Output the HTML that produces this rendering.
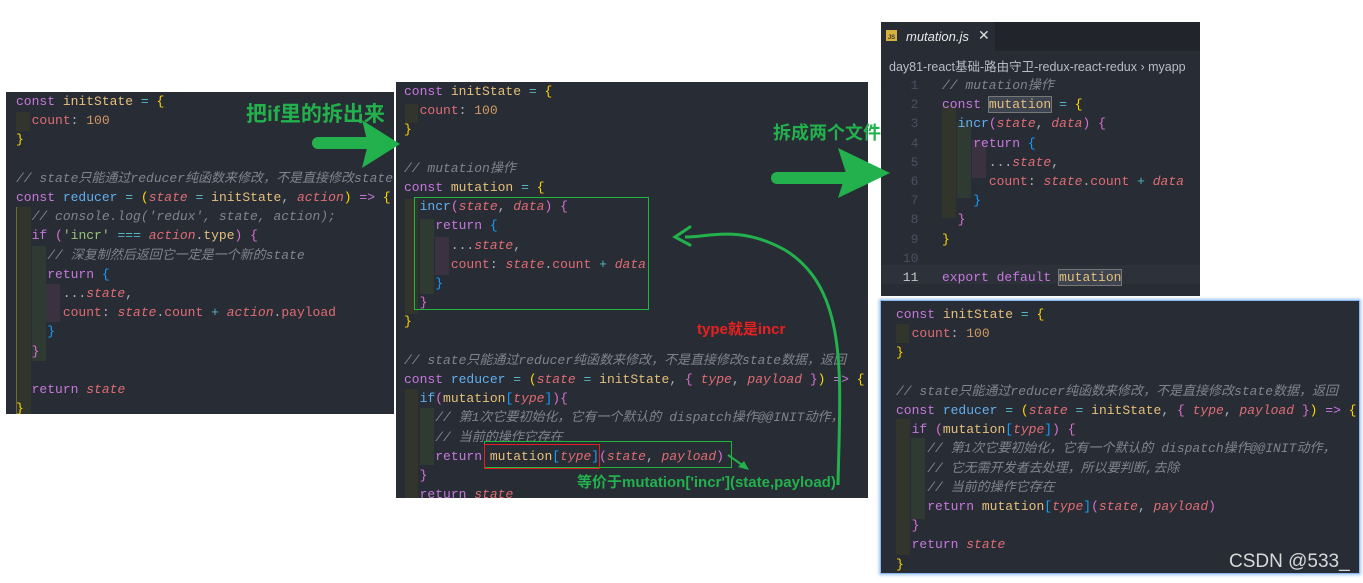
<!DOCTYPE html>
<html><head><meta charset="utf-8"><style>
body{margin:0;width:1363px;height:583px;background:#fff;position:relative;overflow:hidden;font-family:"Liberation Mono","Noto Sans CJK SC",monospace}
.p{position:absolute;background:#282c34;overflow:hidden}
pre{margin:0;position:absolute;font-family:"Liberation Mono","Noto Sans CJK SC",monospace;font-size:13px;line-height:19.2px;color:#abb2bf;white-space:pre}
.k{color:#c678dd}.y{color:#e5c07b}.r{color:#e06c75}.n{color:#d19a66}.c{color:#7f848e;font-style:italic}.b{color:#61afef}.i{color:#e06c75;font-style:italic}.g{color:#98c379}.cy{color:#56b6c2}.yb{color:#ffd700}.pb{color:#da70d6}.bb{color:#179fff}.w{color:#dcdcdc}
.lab{position:absolute;font-family:"Liberation Sans","Noto Sans CJK SC",sans-serif;font-weight:bold;white-space:nowrap}
.gd{position:absolute;background:#32352c}
</style></head><body>

<!-- Panel A -->
<div class="p" style="left:6px;top:92px;width:388px;height:322px">
<div class="gd" style="left:10px;top:20px;width:14px;height:19px"></div>
<div class="gd" style="left:10px;top:115px;width:14px;height:210px;border-left:1px solid #6e6a3a"></div>
<div class="gd" style="left:26px;top:154px;width:14px;height:115px;background:#2f3a33"></div>
<div class="gd" style="left:40px;top:192px;width:14px;height:38px;background:#3a3240"></div>
<pre style="left:10px;top:0px"><span class="k">const</span> <span class="y">initState</span> <span class="cy">=</span> <span class="yb">{</span>
  <span class="r">count</span>: <span class="n">100</span>
<span class="yb">}</span>

<span class="c">// state只能通过reducer纯函数来修改，不是直接修改state</span>
<span class="k">const</span> <span class="b">reducer</span> <span class="cy">=</span> <span class="yb">(</span><span class="i">state</span> <span class="cy">=</span> <span class="y">initState</span>, <span class="i">action</span><span class="yb">)</span> <span class="k">=&gt;</span> <span class="yb">{</span>
  <span class="c">// console.log('redux', state, action);</span>
  <span class="k">if</span> <span class="pb">(</span><span class="g">'incr'</span> <span class="cy">===</span> <span class="i">action</span>.<span class="y">type</span><span class="pb">)</span> <span class="pb">{</span>
    <span class="c">// 深复制然后返回它一定是一个新的state</span>
    <span class="k">return</span> <span class="bb">{</span>
      ...<span class="i">state</span>,
      <span class="r">count</span>: <span class="i">state</span>.<span class="r">count</span> <span class="cy">+</span> <span class="i">action</span>.<span class="r">payload</span>
    <span class="bb">}</span>
  <span class="pb">}</span>

  <span class="k">return</span> <span class="i">state</span>
<span class="yb">}</span></pre>
</div>

<!-- Panel B -->
<div class="p" style="left:396px;top:82px;width:472px;height:416px">
<div class="gd" style="left:9px;top:22px;width:13px;height:19px"></div>
<div class="gd" style="left:9px;top:117px;width:13px;height:115px"></div>
<div class="gd" style="left:24px;top:137px;width:14px;height:75px;background:#2f3a33"></div>
<div class="gd" style="left:39px;top:155px;width:14px;height:38px;background:#3a3240"></div>
<div class="gd" style="left:9px;top:307px;width:13px;height:109px"></div>
<div class="gd" style="left:24px;top:326px;width:14px;height:57px;background:#2f3a33"></div>
<pre style="left:8px;top:0px"><span class="k">const</span> <span class="y">initState</span> <span class="cy">=</span> <span class="yb">{</span>
  <span class="r">count</span>: <span class="n">100</span>
<span class="yb">}</span>

<span class="c">// mutation操作</span>
<span class="k">const</span> <span class="y">mutation</span> <span class="cy">=</span> <span class="yb">{</span>
  <span class="b">incr</span><span class="pb">(</span><span class="i">state</span>, <span class="i">data</span><span class="pb">)</span> <span class="pb">{</span>
    <span class="k">return</span> <span class="bb">{</span>
      ...<span class="i">state</span>,
      <span class="r">count</span>: <span class="i">state</span>.<span class="r">count</span> <span class="cy">+</span> <span class="i">data</span>
    <span class="bb">}</span>
  <span class="pb">}</span>
<span class="yb">}</span>

<span class="c">// state只能通过reducer纯函数来修改，不是直接修改state数据，返回</span>
<span class="k">const</span> <span class="b">reducer</span> <span class="cy">=</span> <span class="yb">(</span><span class="i">state</span> <span class="cy">=</span> <span class="y">initState</span>, <span class="pb">{</span> <span class="i">type</span>, <span class="i">payload</span> <span class="pb">}</span><span class="yb">)</span> <span class="k">=&gt;</span> <span class="yb">{</span>
  <span class="b">if</span><span class="pb">(</span><span class="y">mutation</span><span class="bb">[</span><span class="i">type</span><span class="bb">]</span><span class="pb">){</span>
    <span class="c">// 第1次它要初始化，它有一个默认的 dispatch操作@@INIT动作，</span>
    <span class="c">// 当前的操作它存在</span>
    <span class="k">return</span> <span class="y">mutation</span><span class="bb">[</span><span class="i">type</span><span class="bb">]</span><span class="pb">(</span><span class="i">state</span>, <span class="i">payload</span><span class="pb">)</span>
  <span class="pb">}</span>
  <span class="k">return</span> <span class="i">state</span></pre>
<div style="position:absolute;left:18px;top:115px;width:233px;height:111px;border:1px solid #1fb83d"></div>
<div style="position:absolute;left:88px;top:359px;width:246px;height:25px;border:1px solid #1fb83d"></div>
<div style="position:absolute;left:88px;top:362px;width:114px;height:23px;border:1px solid #e02020"></div>
</div>

<!-- Panel C -->
<div class="p" style="left:881px;top:22px;width:319px;height:274px;background:#282c34">
<div style="position:absolute;left:0;top:0;width:319px;height:29px;background:#21252b"></div>
<div style="position:absolute;left:0;top:0;width:114px;height:29px;background:#282c34"></div>
<div style="position:absolute;left:5px;top:8px;width:11px;height:11px;background:#d7b13c;font:bold 6px 'Liberation Sans';color:#333;text-align:center;line-height:16px">JS</div>
<div class="lab" style="left:25px;top:7px;font-weight:normal;font-style:italic;font-size:13px;color:#e8e8e8">mutation.js</div>
<div class="lab" style="left:97px;top:5px;font-weight:normal;font-size:14px;color:#ddd">✕</div>
<div class="lab" style="left:8px;top:34px;font-weight:normal;font-size:12.5px;color:#b8bcc4">day81-react基础-路由守卫-redux-react-redux › myapp</div>
<div class="gd" style="left:61px;top:83px;width:14px;height:113px"></div>
<div class="gd" style="left:76px;top:100px;width:14px;height:76px;background:#2f3a33"></div>
<div class="gd" style="left:91px;top:118px;width:14px;height:38px;background:#3a3240"></div>
<div style="position:absolute;left:0;top:243px;width:319px;height:19px;background:#2c313a"></div>
<pre style="left:14px;top:54px;color:#495162">  1
  2
  3
  4
  5
  6
  7
  8
  9
 10
<span style="color:#c8c8c8"> 11</span></pre>
<pre style="left:61px;top:54px"><span class="c">// mutation操作</span>
<span class="k">const</span> <span class="y" style="background:#3e4450;outline:1px solid #777">mutation</span> <span class="cy">=</span> <span class="yb">{</span>
  <span class="b">incr</span><span class="pb">(</span><span class="i">state</span>, <span class="i">data</span><span class="pb">)</span> <span class="pb">{</span>
    <span class="k">return</span> <span class="bb">{</span>
      ...<span class="i">state</span>,
      <span class="r">count</span>: <span class="i">state</span>.<span class="r">count</span> <span class="cy">+</span> <span class="i">data</span>
    <span class="bb">}</span>
  <span class="pb">}</span>
<span class="yb">}</span>

<span class="k">export</span> <span class="k">default</span> <span class="y" style="background:#3e4450;outline:1px solid #777">mutation</span></pre>
</div>

<!-- Panel D -->
<div class="p" style="left:880px;top:300px;width:478px;height:272px;box-shadow:0 0 3px 1px #9cc4f0;border:1px solid #8bb8ee">
<div class="gd" style="left:15px;top:23px;width:13px;height:19px"></div>
<div class="gd" style="left:15px;top:118px;width:14px;height:136px"></div>
<div class="gd" style="left:30px;top:137px;width:14px;height:81px;background:#2f3a33"></div>
<pre style="left:15px;top:4px"><span class="k">const</span> <span class="y">initState</span> <span class="cy">=</span> <span class="yb">{</span>
  <span class="r">count</span>: <span class="n">100</span>
<span class="yb">}</span>

<span class="c">// state只能通过reducer纯函数来修改，不是直接修改state数据，返回</span>
<span class="k">const</span> <span class="b">reducer</span> <span class="cy">=</span> <span class="yb">(</span><span class="i">state</span> <span class="cy">=</span> <span class="y">initState</span>, <span class="pb">{</span> <span class="i">type</span>, <span class="i">payload</span> <span class="pb">}</span><span class="yb">)</span> <span class="k">=&gt;</span> <span class="yb">{</span>
  <span class="k">if</span> <span class="pb">(</span><span class="y">mutation</span><span class="bb">[</span><span class="i">type</span><span class="bb">]</span><span class="pb">)</span> <span class="pb">{</span>
    <span class="c">// 第1次它要初始化，它有一个默认的 dispatch操作@@INIT动作，</span>
    <span class="c">// 它无需开发者去处理，所以要判断,去除</span>
    <span class="c">// 当前的操作它存在</span>
    <span class="k">return</span> <span class="y">mutation</span><span class="bb">[</span><span class="i">type</span><span class="bb">]</span><span class="pb">(</span><span class="i">state</span>, <span class="i">payload</span><span class="pb">)</span>
  <span class="pb">}</span>
  <span class="k">return</span> <span class="i">state</span>
<span class="yb">}</span></pre>
<div class="lab" style="left:348px;top:250px;font-weight:normal;font-size:19px;color:#d8d8d8">CSDN @533_</div>
</div>

<!-- Arrows -->
<svg width="1363" height="583" style="position:absolute;left:0;top:0" >
<line x1="318" y1="143" x2="372" y2="143" stroke="#22b14c" stroke-width="12" stroke-linecap="round"/>
<polygon points="362,120 400,144 362,168 368,144" fill="#22b14c"/>
<line x1="777" y1="178" x2="852" y2="178" stroke="#22b14c" stroke-width="12" stroke-linecap="round"/>
<polygon points="838,148 890,173 838,198 846,173" fill="#22b14c"/>
<path d="M838,485 C840,380 850,290 785,250 C740,225 710,237 685,237" fill="none" stroke="#22b14c" stroke-width="3"/>
<path d="M690,227 L675,237 L690,245" fill="none" stroke="#22b14c" stroke-width="3" stroke-linecap="round"/>
<line x1="728" y1="455" x2="745" y2="467" stroke="#22b14c" stroke-width="2"/>
<polygon points="749,470 738,467 744,461" fill="#22b14c"/>
</svg>
<div class="lab" style="left:246px;top:98px;font-size:21px;color:#22b14c">把if里的拆出来</div>
<div class="lab" style="left:773px;top:119px;font-size:18px;color:#22b14c">拆成两个文件</div>
<div class="lab" style="left:697px;top:318px;font-size:15px;color:#e82020">type就是incr</div>
<div class="lab" style="left:577px;top:471px;font-size:15px;color:#22b14c">等价于mutation['incr'](state,payload)</div>
</body></html>
